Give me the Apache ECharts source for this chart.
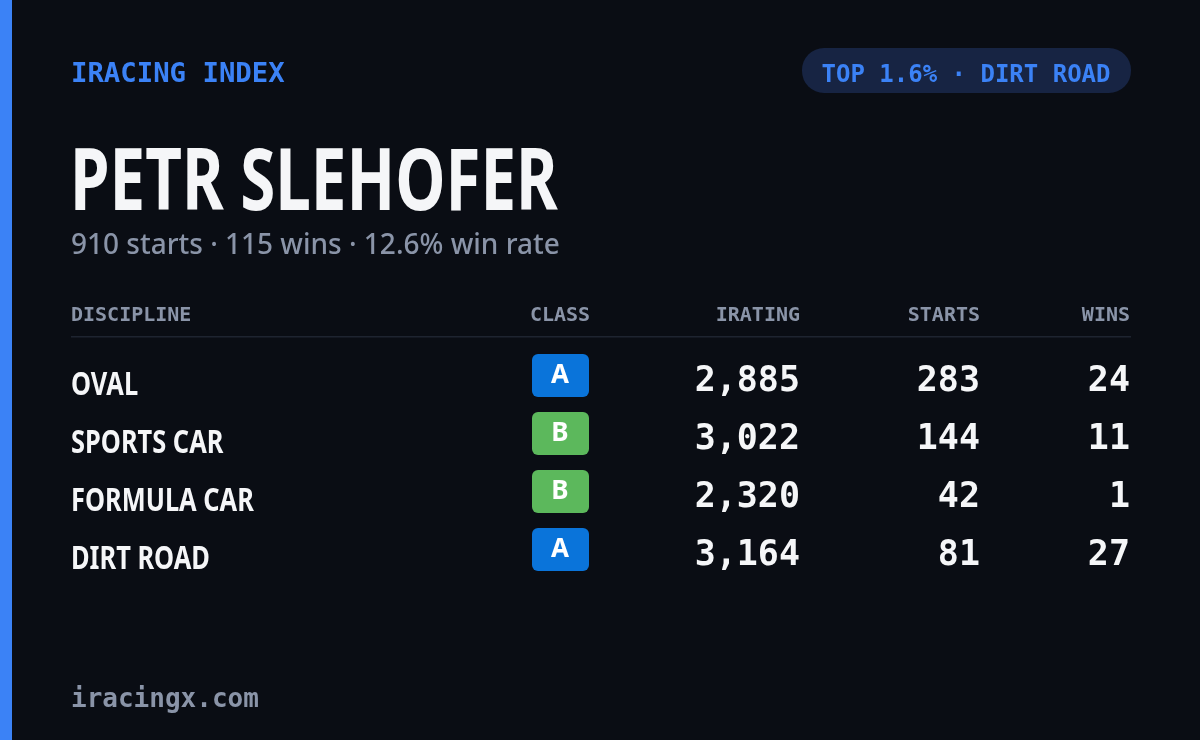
<!DOCTYPE html>
<html><head><meta charset="utf-8">
<script src="https://cdn.jsdelivr.net/npm/echarts@6/dist/echarts.min.js"></script>
<style>html,body{margin:0;padding:0;background:#0a0d14}#c{width:1200px;height:740px}</style>
</head><body><div id="c"></div>
<script>
const disciplines = ["OVAL", "SPORTS CAR", "FORMULA CAR", "DIRT ROAD"];
const classes = ["A", "B", "B", "A"];
const iratings = ["2,885", "3,022", "2,320", "3,164"];
const starts = ["283", "144", "42", "81"];
const wins = ["24", "11", "1", "27"];
const headers = ["DISCIPLINE", "CLASS", "IRATING", "STARTS", "WINS"];
const title = "PETR SLEHOFER";
const subtitle = "910 starts · 115 wins · 12.6% win rate";
const badge = "TOP 1.6% · DIRT ROAD";

const mono = '"DejaVu Sans Mono", "Liberation Mono", monospace';
const cond = '"Noto Sans", sans-serif';
const sans = '"Noto Sans", Inter, sans-serif';
const classColor = {A: "#0a74da", B: "#5cb85c"};

const g = [];
g.push({type:'rect', shape:{x:0,y:0,width:12,height:740}, style:{fill:'#3b82f6'}});
g.push({type:'text', x:71, y:75, scaleX:1.05, style:{text:'IRACING INDEX', font:'bold 26px '+mono, fill:'#3b82f6', verticalAlign:'middle'}});
g.push({type:'rect', shape:{x:802,y:48,width:329,height:45,r:22}, style:{fill:'#172443'}});
g.push({type:'text', x:966, y:76, style:{text:badge, font:'bold 24px '+mono, fill:'#3b82f6', align:'center', verticalAlign:'middle'}});
g.push({type:'text', x:70, y:185, scaleX:0.74, style:{text:title, font:'bold 86px '+cond, fill:'#f5f6f8', verticalAlign:'middle'}});
g.push({type:'text', x:71, y:246, style:{text:subtitle, font:'500 28px '+sans, fill:'#8a94a8', verticalAlign:'middle'}});
const colX = [71, 560, 800, 980, 1130];
const colAlign = ['left','center','right','right','right'];
headers.forEach((h,i)=>g.push({type:'text', x:colX[i], y:316, style:{text:h, font:'bold 20px '+mono, fill:'#8a94a8', align:colAlign[i], verticalAlign:'middle'}}));
g.push({type:'rect', shape:{x:71,y:336,width:1060,height:1.5}, style:{fill:'#1e2430'}});
disciplines.forEach((d,i)=>{
  const y = 380 + i*58;
  g.push({type:'text', x:71, y:y+6, scaleX:0.77, style:{text:d, font:'bold 33px '+cond, fill:'#f5f6f8', verticalAlign:'middle'}});
  g.push({type:'rect', shape:{x:532,y:y-26,width:57,height:43,r:6}, style:{fill:classColor[classes[i]]}});
  g.push({type:'text', x:560, y:y-4, style:{text:classes[i], font:'bold 26px '+sans, fill:'#ffffff', align:'center', verticalAlign:'middle'}});
  [iratings[i], starts[i], wins[i]].forEach((v,j)=>g.push({type:'text', x:colX[j+2], y:y+2, style:{text:v, font:'bold 35px '+mono, fill:'#f5f6f8', align:'right', verticalAlign:'middle'}}));
});
g.push({type:'text', x:71, y:700, style:{text:'iracingx.com', font:'bold 26px '+mono, fill:'#8a94a8', verticalAlign:'middle'}});

const chart = echarts.init(document.getElementById('c'));
chart.setOption({backgroundColor:'#0a0d14', graphic:g});
</script></body></html>
